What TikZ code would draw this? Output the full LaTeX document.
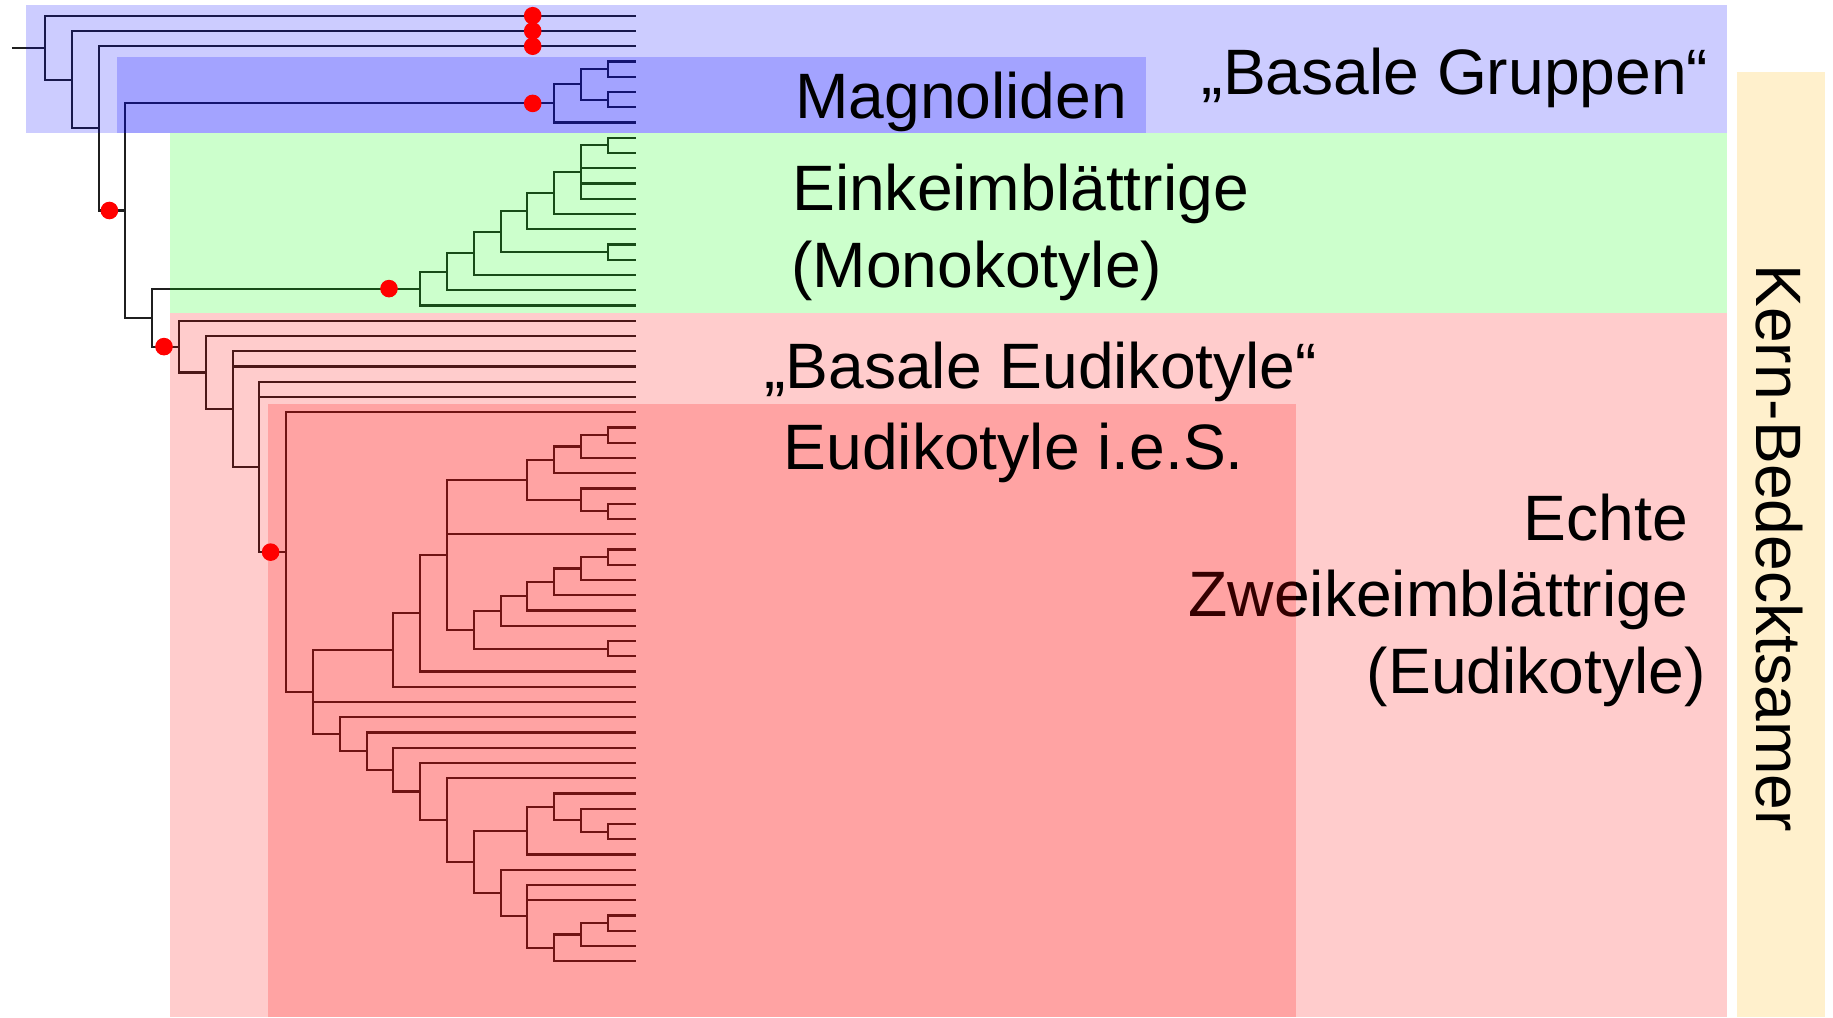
\documentclass[tikz,border=0pt]{standalone}
\usepackage{fontspec}
\setmainfont{Liberation Sans}
\definecolor{corebg}{RGB}{255,240,204}
% draw the elbow branches from a parent node to each of its children
\newcommand\cladeof[2]{\foreach \c in {#2}{\draw[branch] (#1) |- (\c);}}
\begin{document}
\begin{tikzpicture}[x=0.01cm, y=-0.01cm,
  branch/.style={line width=0.6pt, draw=black!88},
  dot/.style={circle, fill=red, draw=none, inner sep=0pt, minimum size=0.176cm},
  lbl/.style={inner sep=0pt, text=black, font=\fontsize{18.25pt}{21.9pt}\selectfont},
  tint/.style={fill=#1, fill opacity=0.2, draw=none}]

\useasboundingbox (0,0) rectangle (1833,1017);
\fill[white] (0,0) rectangle (1833,1017);

% ---------- leaf tips ----------
\foreach \i in {0,...,62}
  \coordinate (l\i) at (635.5, 15.7+15.25*\i);

% ---------- backbone ----------
\coordinate (root) at (11.8, 47.68);
\coordinate (r0) at (45+26.8*0, 47.68);
\coordinate (r1) at (45+26.8*1, 79.65);
\coordinate (r2) at (45+26.8*2, 128.35);
\coordinate (r3) at (45+26.8*3, 210.5);
\coordinate (r4) at (45+26.8*4, 317.6);

% ---------- magnoliids ----------
\coordinate (mA)  at (45+26.8*21, 69.08);
\coordinate (mB)  at (45+26.8*21, 99.58);
\coordinate (mC)  at (45+26.8*20, 84.33);
\coordinate (mag) at (45+26.8*19, 103.39);

% ---------- monocots ----------
\coordinate (mH)   at (45+26.8*21, 145.33);
\coordinate (mG)   at (45+26.8*20, 172.01);
\coordinate (mF)   at (45+26.8*19, 192.98);
\coordinate (mD1)  at (45+26.8*18, 211.09);
\coordinate (mE)   at (45+26.8*21, 252.08);
\coordinate (mD)   at (45+26.8*17, 231.58);
\coordinate (mC2)  at (45+26.8*16, 253.27);
\coordinate (mB2)  at (45+26.8*15, 271.73);
\coordinate (mono) at (45+26.8*14, 288.59);

% ---------- eudicots ----------
\coordinate (X1a) at (45+26.8*21, 435.08);
\coordinate (X1b) at (45+26.8*20, 446.51);
\coordinate (X1)  at (45+26.8*19, 459.86);
\coordinate (X2a) at (45+26.8*21, 511.33);
\coordinate (X2)  at (45+26.8*20, 499.89);
\coordinate (Y)   at (45+26.8*18, 479.87);
\coordinate (Za)  at (45+26.8*21, 557.08);
\coordinate (Zb)  at (45+26.8*20, 568.51);
\coordinate (Zc)  at (45+26.8*19, 581.86);
\coordinate (Zd)  at (45+26.8*18, 596.15);
\coordinate (Ze)  at (45+26.8*17, 610.93);
\coordinate (Zf)  at (45+26.8*21, 648.58);
\coordinate (Z)   at (45+26.8*16, 629.75);
\coordinate (W)   at (45+26.8*15, 554.81);
\coordinate (V)   at (45+26.8*14, 613.13);
\coordinate (U)   at (45+26.8*13, 649.92);
\coordinate (P3)  at (45+26.8*21, 831.58);
\coordinate (P2)  at (45+26.8*20, 820.14);
\coordinate (P1)  at (45+26.8*19, 806.8);
\coordinate (P)   at (45+26.8*18, 830.63);
\coordinate (T)   at (45+26.8*21, 923.08);
\coordinate (S)   at (45+26.8*20, 934.51);
\coordinate (R)   at (45+26.8*19, 947.86);
\coordinate (Q2)  at (45+26.8*18, 916.4);
\coordinate (Q1)  at (45+26.8*17, 893.05);
\coordinate (E12) at (45+26.8*16, 861.84);
\coordinate (E11) at (45+26.8*15, 820.02);
\coordinate (E10) at (45+26.8*14, 791.49);
\coordinate (E9)  at (45+26.8*13, 769.6);
\coordinate (E8)  at (45+26.8*12, 751.02);
\coordinate (E7)  at (45+26.8*11, 734.11);
\coordinate (E5)  at (45+26.8*10, 692.02);
\coordinate (E4)  at (45+26.8*9, 552.11);
\coordinate (E3)  at (45+26.8*8, 466.9);
\coordinate (E2)  at (45+26.8*7, 409.05);
\coordinate (E1)  at (45+26.8*6, 372.5);
\coordinate (E0)  at (45+26.8*5, 346.6);

% ---------- branches ----------
\draw[branch] (root) -- (r0);
\cladeof{r0}{l0,r1}
\cladeof{r1}{l1,r2}
\cladeof{r2}{l2,r3}
\cladeof{r3}{mag,r4}
\cladeof{mag}{mC,l7}
\cladeof{mC}{mA,mB}
\cladeof{mA}{l3,l4}
\cladeof{mB}{l5,l6}
\cladeof{r4}{mono,E0}
\cladeof{mono}{mB2,l19}
\cladeof{mB2}{mC2,l18}
\cladeof{mC2}{mD,l17}
\cladeof{mD}{mD1,mE}
\cladeof{mD1}{mF,l14}
\cladeof{mF}{mG,l13}
\cladeof{mG}{mH,l10,l11,l12}
\cladeof{mH}{l8,l9}
\cladeof{mE}{l15,l16}
\cladeof{E0}{l20,E1}
\cladeof{E1}{l21,E2}
\cladeof{E2}{l22,l23,E3}
\cladeof{E3}{l24,l25,E4}
\cladeof{E4}{l26,E5}
\cladeof{E5}{U,l45,E7}
\cladeof{U}{V,l44}
\cladeof{V}{W,l43}
\cladeof{W}{Y,l34,Z}
\cladeof{Y}{X1,X2}
\cladeof{X1}{X1b,l30}
\cladeof{X1b}{X1a,l29}
\cladeof{X1a}{l27,l28}
\cladeof{X2}{l31,X2a}
\cladeof{X2a}{l32,l33}
\cladeof{Z}{Ze,Zf}
\cladeof{Ze}{Zd,l40}
\cladeof{Zd}{Zc,l39}
\cladeof{Zc}{Zb,l38}
\cladeof{Zb}{Za,l37}
\cladeof{Za}{l35,l36}
\cladeof{Zf}{l41,l42}
\cladeof{E7}{l46,E8}
\cladeof{E8}{l47,E9}
\cladeof{E9}{l48,E10}
\cladeof{E10}{l49,E11}
\cladeof{E11}{l50,E12}
\cladeof{E12}{P,Q1}
\cladeof{P}{P1,l55}
\cladeof{P1}{l51,P2}
\cladeof{P2}{l52,P3}
\cladeof{P3}{l53,l54}
\cladeof{Q1}{l56,Q2}
\cladeof{Q2}{l57,l58,R}
\cladeof{R}{S,l62}
\cladeof{S}{T,l61}
\cladeof{T}{l59,l60}

% ---------- translucent group bands ----------
\fill[tint=red] (170,313) rectangle (1726.6,1017);
\node[lbl, anchor=base east] (echte1) at (1706.5,540) {Echte\kern.278em};
\node[lbl, anchor=base east] (echte2) at (1706.5,616.5) {Zweikeimblättrige\kern.278em};
\node[lbl, anchor=base east] (echte3) at (1706.5,693) {(Eudikotyle)};
\fill[tint=red] (268,404) rectangle (1295.5,1017);
\fill[tint=blue] (26,5) rectangle (1726.6,133);
\fill[tint=blue] (117,57) rectangle (1145.6,133);
\fill[tint=green] (170,133) rectangle (1726.6,313);
\fill[corebg] (1737,72) rectangle (1825,1017);

% ---------- markers ----------
\node[dot] (d0) at (532.7,0 |- l0) {};
\node[dot] (d1) at (532.7,0 |- l1) {};
\node[dot] (d2) at (532.7,0 |- l2) {};
\node[dot] (dmag) at (532.7,0 |- mag) {};
\node[dot] (dmono) at (389,0 |- mono) {};
\node[dot] (dr3) at (109.4,0 |- r3) {};
\node[dot] (deu) at (164,0 |- E0) {};
\node[dot] (dcore) at (270.6,0 |- E4) {};

% ---------- labels ----------
\node[lbl, anchor=base west] (magn) at (794.5,118) {Magnoliden};
\node[lbl, anchor=base west] (basal) at (1201,94) {„Basale Gruppen“};
\node[lbl, anchor=base west] (mono1) at (791.5,210) {Einkeimblättrige};
\node[lbl, anchor=base west] (mono2) at (790.5,287) {(Monokotyle)};
\node[lbl, anchor=base west] (baseu) at (763.5,388) {„Basale Eudikotyle“};
\node[lbl, anchor=base west] (eudies) at (783,469.5) {Eudikotyle i.e.S.};
\node[lbl, rotate=-90] (kern) at (1779,548) {Kern-Bedecktsamer};
\end{tikzpicture}
\end{document}
